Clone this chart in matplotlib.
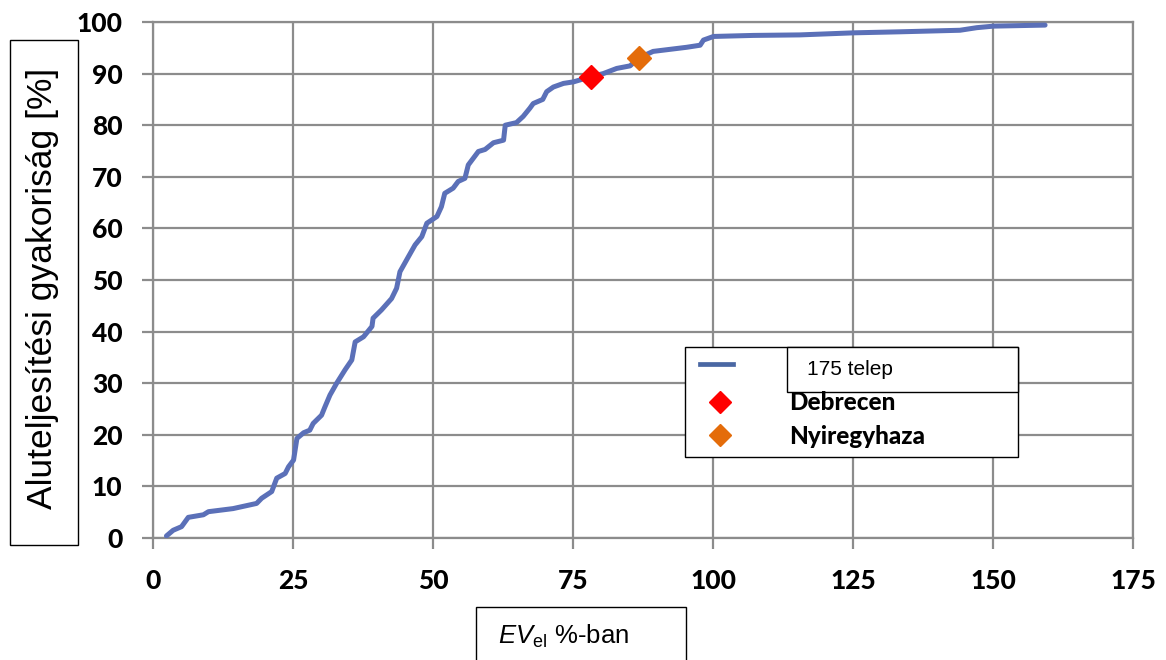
import matplotlib
matplotlib.use("Agg")
import matplotlib.pyplot as plt
from matplotlib.patches import Rectangle
from matplotlib.lines import Line2D

# Data
ev_pct = [2.4, 3.6, 5.1, 6.3, 9.0, 9.9, 14.3, 18.5, 19.4, 21.2, 22.1, 23.6, 24.2, 25.1,
          25.7, 26.9, 28.0, 28.6, 30.1, 30.7, 31.6, 32.8, 34.3, 35.5, 36.1, 37.6, 39.1,
          39.3, 40.8, 42.6, 43.5, 44.1, 45.6, 46.8, 48.0, 48.9, 50.7, 51.5, 52.1, 53.6,
          54.5, 55.7, 56.3, 57.2, 58.1, 59.3, 60.8, 62.6, 62.9, 64.9, 66.1, 67.3, 67.9,
          69.6, 70.3, 71.5, 73.3, 75.1, 78.2, 80.4, 82.8, 85.2, 86.7, 89.3, 92.3, 95.3,
          97.7, 98.3, 100.1, 107.2, 115.5, 125.1, 133.4, 144.1, 147.1, 150.1, 159.3]
freq = [0.4, 1.5, 2.2, 4.0, 4.5, 5.1, 5.7, 6.7, 7.7, 9.0, 11.6, 12.5, 13.8, 15.1,
        19.3, 20.4, 20.9, 22.2, 23.8, 25.4, 27.7, 30.0, 32.6, 34.5, 38.0, 39.0, 41.0,
        42.6, 44.2, 46.4, 48.4, 51.6, 54.5, 56.8, 58.4, 61.0, 62.3, 64.2, 66.8, 67.8,
        69.1, 69.7, 72.3, 73.6, 74.9, 75.3, 76.6, 77.1, 80.0, 80.5, 81.7, 83.3, 84.2,
        85.0, 86.5, 87.4, 88.1, 88.4, 89.4, 90.0, 91.0, 91.5, 93.0, 94.3, 94.7, 95.1,
        95.5, 96.5, 97.2, 97.4, 97.5, 97.9, 98.1, 98.4, 98.9, 99.2, 99.4]
series_label = "175 telep"
cities = ["Debrecen", "Nyiregyhaza"]
city_x = [78.2, 86.7]
city_y = [89.4, 93.0]
city_colors = ["#ff0000", "#e46c0a"]
x_ticks = [0, 25, 50, 75, 100, 125, 150, 175]
y_ticks = [0, 10, 20, 30, 40, 50, 60, 70, 80, 90, 100]

plt.rcParams["mathtext.fontset"] = "custom"
plt.rcParams["mathtext.rm"] = "Liberation Sans"
plt.rcParams["mathtext.it"] = "Liberation Sans:italic"

W, H = 1166, 660
fig = plt.figure(figsize=(W / 100, H / 100), dpi=100)
ax = fig.add_axes([153 / W, 1 - 538 / H, (1133 - 153) / W, (538 - 22) / H])

line_color = "#5b70b8"
grid_color = "#8c8c8c"
ax.plot(ev_pct, freq, color=line_color, lw=3.6, solid_joinstyle="round",
        solid_capstyle="round", zorder=3)
for cx, cy, cc in zip(city_x, city_y, city_colors):
    ax.plot([cx], [cy], marker="D", ms=12.5, color=cc, mec=cc, ls="none", zorder=4)

ax.set_xlim(0, 175)
ax.set_ylim(0, 100)
ax.set_xticks(x_ticks)
ax.set_yticks(y_ticks)
ax.grid(True, color=grid_color, lw=1.6)
ax.set_axisbelow(True)
for s in ax.spines.values():
    s.set_color(grid_color)
    s.set_linewidth(1.6)
ax.tick_params(axis="both", direction="out", length=8, width=1.6, color=grid_color,
               labelsize=19)
ax.tick_params(axis="x", pad=14)
ax.tick_params(axis="y", pad=14)
for lab in ax.get_xticklabels() + ax.get_yticklabels():
    lab.set_fontfamily("Lato")
    lab.set_fontweight(900)
    lab.set_color("black")

def px(x, y):
    return x / W, 1 - y / H

# Y label box
fig.add_artist(Rectangle(px(10, 545), 68 / W, 505 / H, transform=fig.transFigure,
                         fill=False, ec="black", lw=1.0))
fig.text(*px(43, 288), "Aluteljesítési gyakoriság [%]", rotation=90, ha="center",
         va="center", fontsize=25.5, family="Liberation Sans")

# X label box
fig.add_artist(Rectangle(px(476, 662), 210 / W, 55 / H, transform=fig.transFigure,
                         fill=False, ec="black", lw=1.0, clip_on=False))
fig.text(*px(498, 636), r"$\mathit{EV}_{\mathrm{el}}$ %-ban", ha="left", va="center",
         fontsize=18.5, family="Liberation Sans")

# Legend
fig.add_artist(Rectangle(px(685, 457), (1018 - 685) / W, (457 - 347) / H,
                         transform=fig.transFigure, fc="white", ec="black", lw=1.0, zorder=5))
fig.add_artist(Rectangle(px(787, 392), (1018 - 787) / W, (392 - 347) / H,
                         transform=fig.transFigure, fc="white", ec="black", lw=1.0, zorder=6))
fig.add_artist(Line2D([700 / W, 733 / W], [1 - 364 / H] * 2, transform=fig.transFigure,
                      color="#4a67a3", lw=3.4, zorder=7))
fig.text(*px(807, 370), series_label, ha="left", va="center", fontsize=15,
         family="Liberation Sans", zorder=7)
for i, (name, cc) in enumerate(zip(cities, city_colors)):
    yy = 402 + 33 * i
    fig.add_artist(Line2D([720 / W], [1 - yy / H], transform=fig.transFigure, marker="D",
                          ms=11.5, color=cc, mec=cc, ls="none", zorder=7))
    fig.text(*px(789, yy + 1), name, ha="left", va="center", fontsize=17.5,
             family="Lato", fontweight=900, zorder=7)

fig.savefig("out.png", dpi=100)
